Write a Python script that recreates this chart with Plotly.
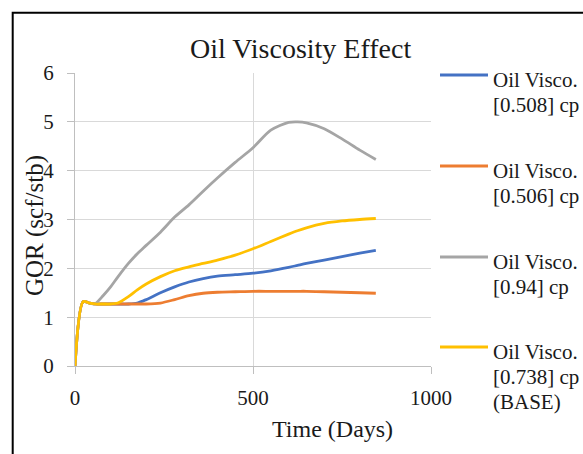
import plotly.graph_objects as go

# ---------------- data ----------------
time_days = [0, 23, 40, 55, 80, 100, 120, 150, 175, 200, 240, 280, 320, 360,
             400, 450, 500, 550, 600, 625, 650, 700, 750, 800, 845]

gor_0508 = [0, 1.32, 1.29, 1.27, 1.27, 1.27, 1.27, 1.27, 1.29, 1.36, 1.50, 1.62,
            1.72, 1.79, 1.84, 1.87, 1.90, 1.95, 2.02, 2.06, 2.10, 2.17, 2.24, 2.31, 2.37]
gor_0506 = [0, 1.32, 1.29, 1.27, 1.27, 1.27, 1.27, 1.27, 1.27, 1.27, 1.29, 1.36,
            1.44, 1.49, 1.51, 1.52, 1.53, 1.53, 1.53, 1.53, 1.53, 1.52, 1.51, 1.50, 1.49]
gor_094 = [0, 1.32, 1.29, 1.27, 1.45, 1.62, 1.82, 2.10, 2.30, 2.47, 2.74, 3.05,
           3.30, 3.58, 3.85, 4.17, 4.47, 4.83, 4.99, 5.00, 4.98, 4.86, 4.65, 4.42, 4.23]
gor_0738 = [0, 1.32, 1.29, 1.27, 1.27, 1.27, 1.29, 1.42, 1.56, 1.68, 1.83, 1.95,
            2.03, 2.10, 2.17, 2.27, 2.40, 2.55, 2.70, 2.77, 2.83, 2.92, 2.97, 3.00, 3.02]

series_names = [["Oil Visco.", "[0.508] cp"],
                ["Oil Visco.", "[0.506] cp"],
                ["Oil Visco.", "[0.94] cp"],
                ["Oil Visco.", "[0.738] cp", "(BASE)"]]
series_values = [gor_0508, gor_0506, gor_094, gor_0738]
series_colors = ["#4472C4", "#ED7D31", "#A5A5A5", "#FFC000"]

x_ticks = [0, 500, 1000]
y_ticks = [0, 1, 2, 3, 4, 5, 6]

# ---------------- layout helpers ----------------
W, H = 583, 454
ML, MR, MT, MB = 75, 152, 73, 88
PW, PH = W - ML - MR, H - MT - MB
FONT = "Liberation Serif"
TXT = "#1a1a1a"


def px(x):
    return (x - ML) / PW


def py(y):
    return (H - MB - y) / PH


fig = go.Figure()
for name, vals, col in zip(series_names, series_values, series_colors):
    fig.add_trace(go.Scatter(
        x=time_days, y=vals, mode="lines", name=" ".join(name),
        line=dict(color=col, width=2.8, shape="spline", smoothing=0.8),
        showlegend=False,
    ))

shapes = [dict(type="rect", xref="paper", yref="paper",
               x0=px(12.7), x1=px(620), y0=py(500), y1=py(12.7),
               line=dict(color="black", width=2), fillcolor="rgba(0,0,0,0)")]
annotations = [
    dict(text="Oil Viscosity Effect", x=px(300), y=py(49), xref="paper", yref="paper",
         xanchor="center", yanchor="middle", showarrow=False,
         font=dict(family=FONT, size=28, color=TXT)),
    dict(text="Time (Days)", x=px(332), y=py(429), xref="paper", yref="paper",
         xanchor="center", yanchor="middle", showarrow=False,
         font=dict(family=FONT, size=24, color=TXT)),
    dict(text="GOR (scf/stb)", x=px(35), y=py(226), xref="paper", yref="paper",
         xanchor="center", yanchor="middle", showarrow=False, textangle=-90,
         font=dict(family=FONT, size=25, color=TXT)),
]

# manual legend (long line samples, as in the original)
legend_line_y = [75, 166, 257, 347]
for ly, name, col in zip(legend_line_y, series_names, series_colors):
    shapes.append(dict(type="line", xref="paper", yref="paper",
                       x0=px(440), x1=px(488), y0=py(ly), y1=py(ly),
                       line=dict(color=col, width=3)))
    for k, part in enumerate(name):
        annotations.append(dict(text=part, x=px(491), y=py(ly + 5 + 25 * k),
                                xref="paper", yref="paper", xanchor="left",
                                yanchor="middle", showarrow=False,
                                font=dict(family=FONT, size=21, color=TXT)))

fig.update_layout(
    width=W, height=H, margin=dict(l=ML, r=MR, t=MT, b=MB),
    paper_bgcolor="white", plot_bgcolor="white",
    font=dict(family=FONT, size=21, color=TXT),
    shapes=shapes, annotations=annotations, showlegend=False,
)
fig.update_xaxes(range=[0, 1000], tickvals=x_ticks, ticks="outside", ticklen=7,
                 tickcolor="#BFBFBF", showgrid=True, gridcolor="#D9D9D9",
                 showline=True, linecolor="#BFBFBF", zeroline=False,
                 ticklabelstandoff=6, tickfont=dict(family=FONT, size=21, color=TXT))
fig.update_yaxes(range=[0, 6], tickvals=y_ticks, ticks="outside", ticklen=7,
                 tickcolor="#BFBFBF", showgrid=True, gridcolor="#D9D9D9",
                 showline=True, linecolor="#BFBFBF", zeroline=False,
                 ticklabelstandoff=9, tickfont=dict(family=FONT, size=21, color=TXT))

fig.write_html("out.html")
